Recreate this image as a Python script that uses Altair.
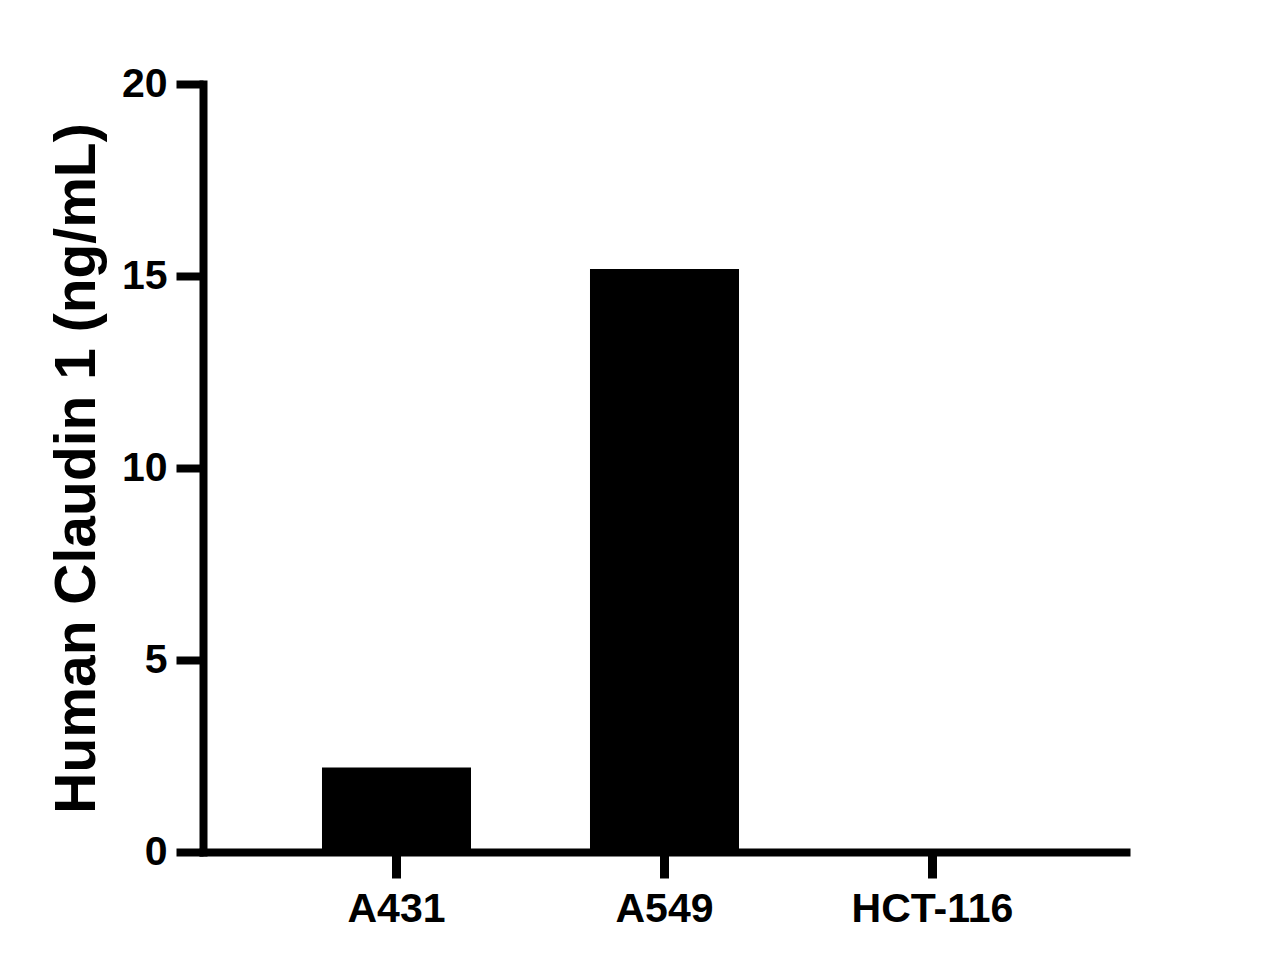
import altair as alt
import pandas as pd

categories = ["A431", "A549", "HCT-116"]
values = [2.2, 15.18, 0.0]
y_ticks = [0, 5, 10, 15, 20]

df = pd.DataFrame({"cell": categories, "conc": values})

FONT = "Liberation Sans"

chart = alt.Chart(df).mark_bar(color="black").encode(
    x=alt.X("cell:N", sort=categories, title=None,
            scale=alt.Scale(paddingInner=0.444, paddingOuter=0.444),
            axis=alt.Axis(labelAngle=0, labelFont=FONT, labelFontSize=41,
                          labelFontWeight="bold", labelColor="black",
                          labelPadding=11, tickSize=26, tickWidth=9,
                          tickColor="black", domainColor="black",
                          domainWidth=8, domainCap="square")),
    y=alt.Y("conc:Q", title="Human Claudin 1 (ng/mL)",
            scale=alt.Scale(domain=[0, 20], nice=False),
            axis=alt.Axis(values=y_ticks, labelFont=FONT, labelFontSize=41,
                          labelFontWeight="bold", labelColor="black",
                          labelPadding=9, tickSize=27, tickWidth=8,
                          tickColor="black", domainColor="black",
                          domainWidth=8, domainCap="square", grid=False,
                          titleFont=FONT, titleFontSize=57,
                          titleFontWeight="bold", titleColor="black",
                          titlePadding=15)),
).properties(
    width=923, height=768,
    background="white",
    autosize=alt.AutoSizeParams(type="none"),
    padding={"left": 195, "top": 76, "right": 120, "bottom": 110},
).configure_view(strokeWidth=0, stroke="transparent")

chart.save("out.html", embed_options={"renderer": "svg", "actions": False})
